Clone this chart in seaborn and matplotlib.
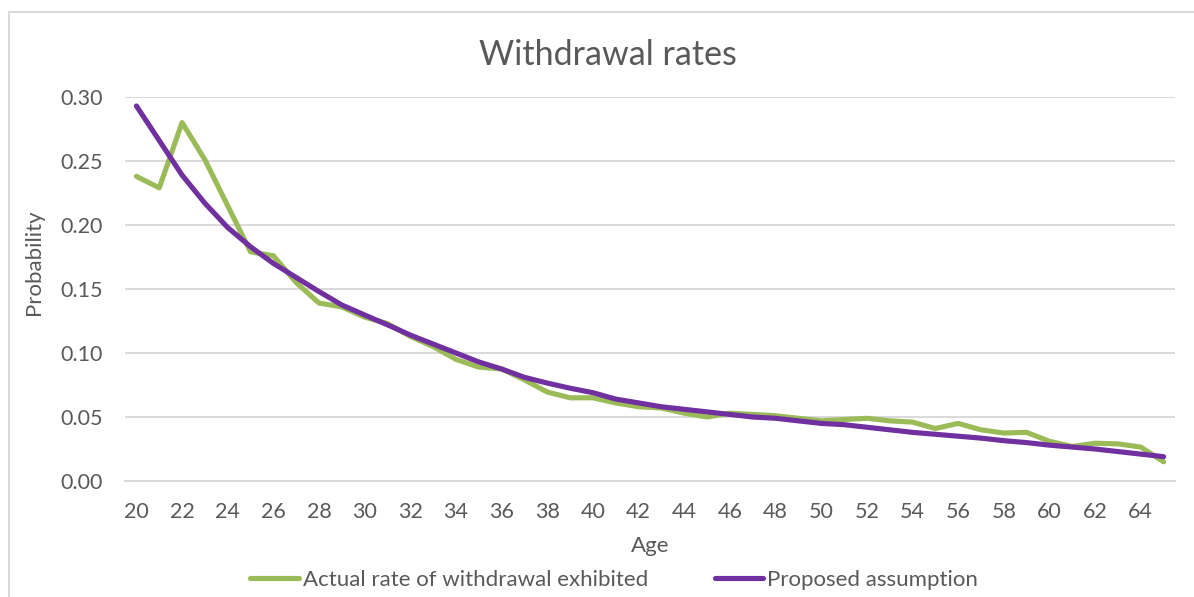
import matplotlib
matplotlib.use("Agg")
import matplotlib.pyplot as plt
import numpy as np
import pandas as pd
import seaborn as sns

ages = list(range(20, 66))
actual_rate = [0.238, 0.229, 0.280, 0.251, 0.215, 0.179, 0.176, 0.155, 0.139, 0.136,
               0.128, 0.123, 0.113, 0.105, 0.095, 0.089, 0.0875, 0.079, 0.0695, 0.065,
               0.065, 0.061, 0.058, 0.057, 0.053, 0.050, 0.053, 0.052, 0.051, 0.049,
               0.047, 0.048, 0.049, 0.047, 0.046, 0.041, 0.045, 0.040, 0.0375, 0.038,
               0.031, 0.027, 0.0295, 0.029, 0.0265, 0.015]
proposed = [0.293, 0.266, 0.239, 0.217, 0.198, 0.183, 0.170, 0.159, 0.148, 0.1375,
            0.1297, 0.122, 0.114, 0.107, 0.100, 0.093, 0.0875, 0.081, 0.0765, 0.0725,
            0.069, 0.064, 0.061, 0.058, 0.056, 0.054, 0.052, 0.050, 0.049, 0.047,
            0.045, 0.044, 0.042, 0.040, 0.038, 0.0365, 0.035, 0.0335, 0.0315, 0.030,
            0.028, 0.0265, 0.025, 0.023, 0.021, 0.019]
series_names = ["Actual rate of withdrawal exhibited", "Proposed assumption"]
series_colors = ["#9BBB59", "#7030A0"]
y_ticks = [0.00, 0.05, 0.10, 0.15, 0.20, 0.25, 0.30]
x_ticks = list(range(20, 66, 2))

df = pd.DataFrame({
    "Age": ages * 2,
    "Probability": actual_rate + proposed,
    "Series": [series_names[0]] * len(ages) + [series_names[1]] * len(ages),
})

sns.set_theme(style="white")
plt.rcParams["font.family"] = ["Lato", "DejaVu Sans"]
text_color = "#595959"
grid_color = "#D9D9D9"

fig = plt.figure(figsize=(11.94, 5.97), dpi=100)
ax = fig.add_axes([125 / 1194, 1 - 481 / 597, (1175 - 125) / 1194, (481 - 97) / 597])

sns.lineplot(data=df, x="Age", y="Probability", hue="Series",
             palette=dict(zip(series_names, series_colors)),
             linewidth=3.7, ax=ax, legend=False)
for ln in ax.get_lines():
    ln.set_solid_capstyle("round")
    ln.set_solid_joinstyle("round")

ax.set_xlim(19.5, 65.5)
ax.set_ylim(0, 0.30)
ax.set_yticks(y_ticks)
ax.set_yticklabels([f"{v:.2f}" for v in y_ticks])
ax.set_xticks(x_ticks)
ax.set_xticklabels([str(v) for v in x_ticks])
ax.tick_params(axis="both", length=0, labelsize=15.5, colors=text_color)
ax.tick_params(axis="y", pad=16)
ax.tick_params(axis="x", pad=15)
ax.yaxis.grid(True, color=grid_color, linewidth=1.4)
ax.set_axisbelow(True)
for side in ["top", "right", "left"]:
    ax.spines[side].set_visible(False)
ax.spines["bottom"].set_color(grid_color)
ax.spines["bottom"].set_linewidth(1.4)

ax.set_xlabel("Age", fontsize=16, color=text_color, labelpad=10)
ax.set_ylabel("Probability", fontsize=16, color=text_color)
ax.yaxis.set_label_coords((44 - 125) / 1050, (481 - 262) / 384)
fig.text(608 / 1194, 1 - 55 / 597, "Withdrawal rates", ha="center", va="center",
         fontsize=24.5, color=text_color)

handles = [plt.Line2D([0], [0], color=c, linewidth=3.7, solid_capstyle="round")
           for c in series_colors]
fig.legend(handles, series_names, loc="center", bbox_to_anchor=(614 / 1194, 1 - 580 / 597),
           ncol=2, frameon=False, fontsize=16, labelcolor=text_color,
           handlelength=2.2, handletextpad=0.15, columnspacing=3.0)

# chart-area frame
fig.add_artist(plt.Rectangle((9 / 1194, -0.1), 1.2, 1 - 12 / 597 + 0.1,
                             transform=fig.transFigure, fill=False,
                             edgecolor=grid_color, linewidth=1.4))

fig.savefig("out.png", dpi=100)
